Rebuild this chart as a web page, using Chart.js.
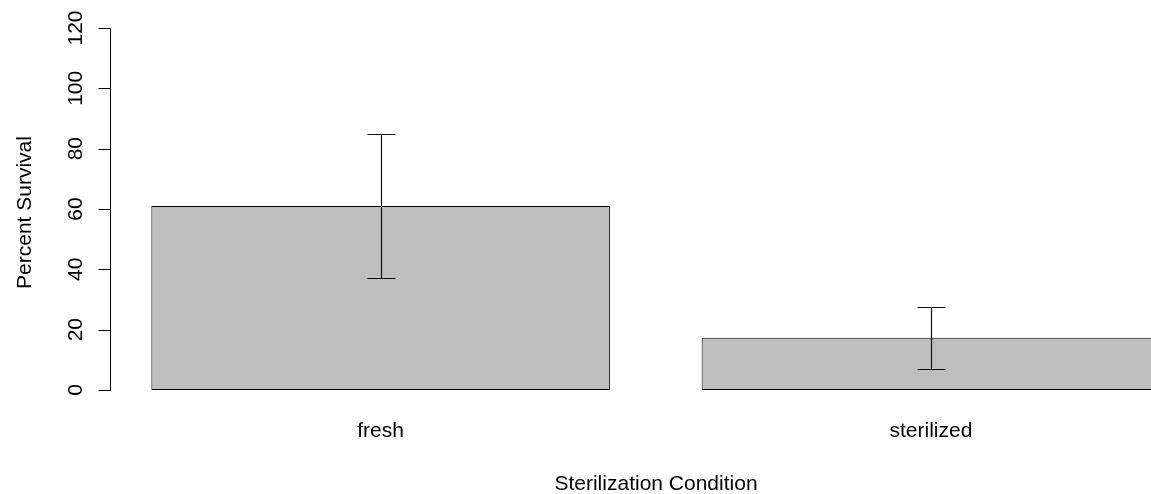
<!DOCTYPE html>
<html>
<head>
<meta charset="utf-8">
<script src="https://cdn.jsdelivr.net/npm/chart.js@4"></script>
<style>
  html, body { margin: 0; padding: 0; background: #ffffff; }
  #wrap { width: 1151px; height: 494px; position: relative; }
</style>
</head>
<body>
<div id="wrap"><canvas id="c" width="1151" height="494"></canvas></div>
<script>
// ---- data ----
const categories = ['fresh', 'sterilized'];
const survival = [61.0, 17.3];
const errors = [24.0, 10.3];
const yTicks = [0, 20, 40, 60, 80, 100, 120];
const xTitle = 'Sterilization Condition';
const yTitle = 'Percent Survival';

// R barplot layout: bar width 1, space 0.2 -> bar centres
const centres = categories.map((c, i) => 0.7 + 1.2 * i);

const FONT = '21px "Liberation Sans", Arial, sans-serif';

const rAxesPlugin = {
  id: 'rAxes',
  afterDatasetsDraw(chart) {
    const ctx = chart.ctx;
    const xs = chart.scales.x, ys = chart.scales.y;
    ctx.save();
    // error bars
    ctx.strokeStyle = '#111';
    ctx.lineWidth = 1.2;
    const meta = chart.getDatasetMeta(0);
    meta.data.forEach((bar, i) => {
      const x = Math.round(bar.x) + 0.5;
      const yt = Math.round(ys.getPixelForValue(survival[i] + errors[i])) + 0.5;
      const yb = Math.round(ys.getPixelForValue(survival[i] - errors[i])) + 0.5;
      ctx.beginPath();
      ctx.moveTo(x, yt); ctx.lineTo(x, yb);
      ctx.moveTo(x - 14, yt); ctx.lineTo(x + 14, yt);
      ctx.moveTo(x - 14, yb); ctx.lineTo(x + 14, yb);
      ctx.stroke();
    });
    // y axis
    ctx.strokeStyle = '#000';
    ctx.lineWidth = 1;
    const ax = 110.5;
    const y0 = Math.round(ys.getPixelForValue(yTicks[0])) + 0.5;
    const y1 = Math.round(ys.getPixelForValue(yTicks[yTicks.length - 1])) + 0.5;
    ctx.beginPath();
    ctx.moveTo(ax, y0); ctx.lineTo(ax, y1);
    yTicks.forEach(v => {
      const py = Math.round(ys.getPixelForValue(v)) + 0.5;
      ctx.moveTo(ax, py); ctx.lineTo(ax - 12, py);
    });
    ctx.stroke();
    ctx.fillStyle = '#000';
    ctx.font = FONT;
    ctx.textAlign = 'center';
    ctx.textBaseline = 'alphabetic';
    yTicks.forEach(v => {
      const py = ys.getPixelForValue(v);
      ctx.save();
      ctx.translate(82, py);
      ctx.rotate(-Math.PI / 2);
      ctx.fillText(String(v), 0, 0);
      ctx.restore();
    });
    // y title
    ctx.save();
    ctx.translate(31, 212.5);
    ctx.rotate(-Math.PI / 2);
    ctx.fillText(yTitle, 0, 0);
    ctx.restore();
    // category labels
    categories.forEach((c, i) => {
      ctx.fillText(c, xs.getPixelForValue(centres[i]), 437);
    });
    // x title
    ctx.fillText(xTitle, 656, 490);
    ctx.restore();
  }
};

new Chart(document.getElementById('c'), {
  type: 'bar',
  data: {
    datasets: [{
      data: categories.map((c, i) => ({ x: centres[i], y: survival[i] })),
      backgroundColor: '#bebebe',
      borderColor: '#000000',
      borderWidth: 1,
      borderSkipped: false,
      categoryPercentage: 1,
      barPercentage: 1 / 1.2
    }]
  },
  options: {
    responsive: false,
    animation: false,
    events: [],
    layout: { padding: { left: 111, right: 0, top: 13.5, bottom: 89.5 } },
    plugins: { legend: { display: false }, tooltip: { enabled: false } },
    scales: {
      x: {
        type: 'linear', min: 0.112, max: 2.38, offset: false, display: false,
        afterBuildTicks: (scale) => { scale.ticks = centres.map(v => ({ value: v })); }
      },
      y: { type: 'linear', min: -4.8, max: 124.8, display: false }
    }
  },
  plugins: [rAxesPlugin]
});
</script>
</body>
</html>
